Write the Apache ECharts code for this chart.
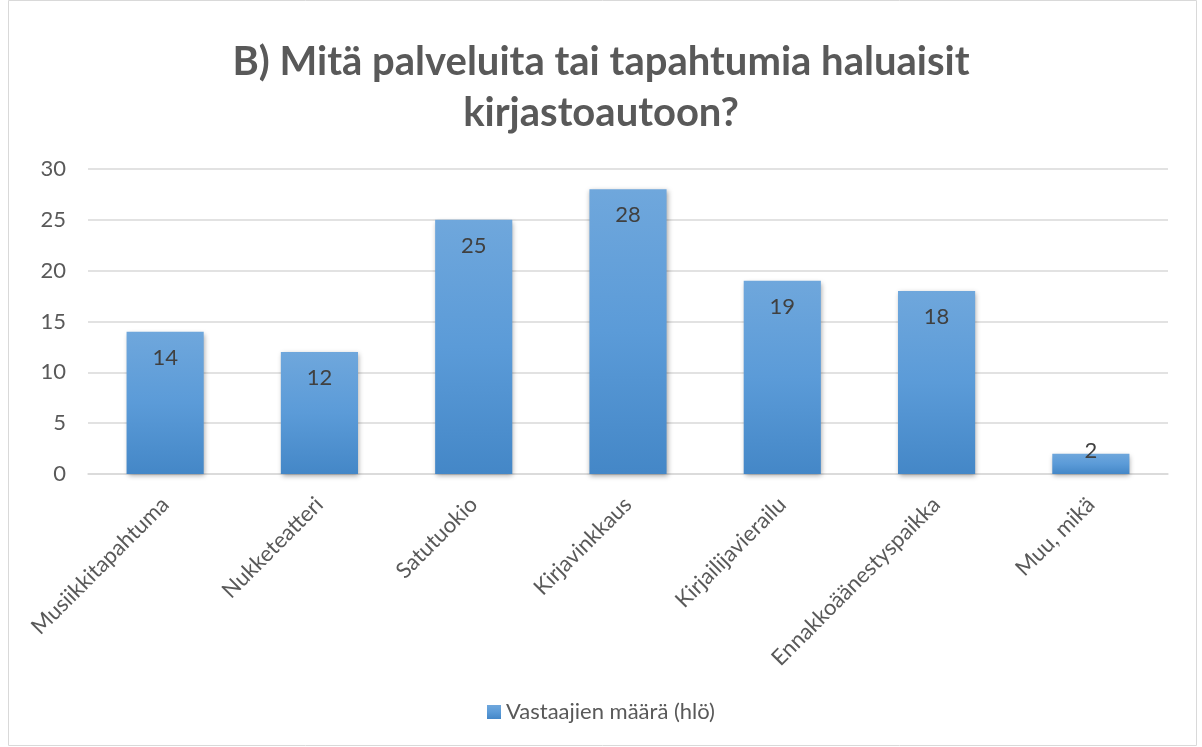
<!DOCTYPE html>
<html>
<head>
<meta charset="utf-8">
<script src="https://cdn.jsdelivr.net/npm/echarts@6/dist/echarts.min.js"></script>
<style>
  html, body { margin: 0; padding: 0; background: #fff; }
  #chart { width: 1202px; height: 747px; }
</style>
</head>
<body>
<div id="chart"></div>
<script>
  // categories and counts
  const categories = ['Musiikkitapahtuma', 'Nukketeatteri', 'Satutuokio', 'Kirjavinkkaus', 'Kirjailijavierailu', 'Ennakkoäänestyspaikka', 'Muu, mikä'];
  const counts = [14, 12, 25, 28, 19, 18, 2];
  const yTicks = [0, 5, 10, 15, 20, 25, 30];
  const seriesName = 'Vastaajien määrä (hlö)';

  const font = 'Lato, "Open Sans", sans-serif';
  let myChart = echarts.init(document.getElementById('chart'));

  let barColor = new echarts.graphic.LinearGradient(0, 0, 0, 1, [
    { offset: 0, color: '#6fa7dc' },
    { offset: 0.5, color: '#5b9bd8' },
    { offset: 1, color: '#4487c7' }
  ]);

  // short bars can't hold the label inside, so it sits on the bar top instead
  let barData = counts.map(v => v < 5 ? { value: v, label: { position: 'top', distance: -8 } } : v);

  let option = {
    animation: false,
    title: {
      text: 'B) Mitä palveluita tai tapahtumia haluaisit\nkirjastoautoon?',
      left: 'center',
      top: 32,
      textStyle: {
        fontFamily: font,
        fontSize: 40,
        fontWeight: 'bold',
        color: '#595959',
        lineHeight: 51
      }
    },
    graphic: [{
      type: 'rect',
      shape: { x: 8.5, y: 0.5, width: 1188, height: 745 },
      style: { fill: 'none', stroke: '#d9d9d9', lineWidth: 1 },
      silent: true
    }],
    legend: {
      bottom: 19,
      left: 'center',
      itemWidth: 14,
      itemHeight: 14,
      itemGap: 6,
      icon: 'rect',
      textStyle: { fontFamily: font, fontSize: 22, color: '#595959' },
      data: [seriesName]
    },
    grid: {
      left: 88,
      right: 34,
      top: 169,
      bottom: 273
    },
    xAxis: {
      type: 'category',
      data: categories,
      axisLine: { lineStyle: { color: '#d9d9d9', width: 1.5 } },
      axisTick: { show: false },
      axisLabel: {
        rotate: 45,
        interval: 0,
        margin: 27,
        fontFamily: font,
        fontSize: 22,
        color: '#595959'
      }
    },
    yAxis: {
      type: 'value',
      min: yTicks[0],
      max: yTicks[yTicks.length - 1],
      interval: 5,
      axisLine: { show: false },
      axisTick: { show: false },
      splitLine: { lineStyle: { color: '#d9d9d9', width: 1.5 } },
      axisLabel: {
        margin: 22,
        fontFamily: font,
        fontSize: 22,
        color: '#595959'
      }
    },
    series: [{
      name: seriesName,
      type: 'bar',
      data: barData,
      barWidth: '50%',
      itemStyle: {
        color: barColor,
        shadowColor: 'rgba(0,0,0,0.35)',
        shadowBlur: 5,
        shadowOffsetX: 1,
        shadowOffsetY: 2
      },
      label: {
        show: true,
        position: 'insideTop',
        distance: 15,
        fontFamily: font,
        fontSize: 22,
        color: '#404040'
      }
    }]
  };
  myChart.setOption(option);
</script>
</body>
</html>
